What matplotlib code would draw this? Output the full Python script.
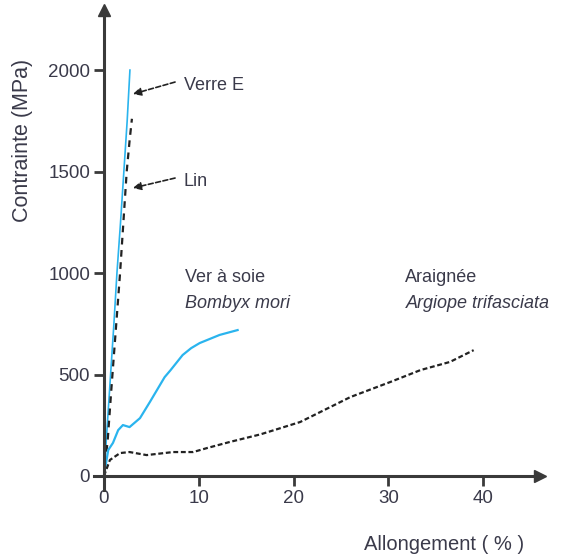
import matplotlib
matplotlib.use("Agg")
import matplotlib.pyplot as plt

# Data (strain %, stress MPa)
glass_x = [0.0, 0.35, 0.7, 1.05, 1.37, 1.75, 2.1, 2.45, 2.74]
glass_y = [0, 250, 500, 750, 1000, 1250, 1500, 1750, 2000]

flax_x = [0.0, 0.4, 0.8, 1.25, 1.7, 2.05, 2.4, 2.7, 2.95]
flax_y = [0, 180, 440, 720, 1000, 1250, 1500, 1650, 1760]

silk_x = [0.0, 0.45, 0.95, 1.5, 2.0, 2.7, 3.8, 4.85, 6.4, 7.0, 8.3, 9.2, 10.1, 12.2, 14.1]
silk_y = [0, 128, 163, 226, 251, 241, 285, 365, 487, 520, 596, 630, 655, 695, 719]

spider_x = [0.0, 0.63, 1.7, 2.7, 4.5, 7.3, 9.4, 10.9, 13.3, 16.5, 20.7, 26.0, 30.2, 33.4, 36.5, 39.0]
spider_y = [0, 79, 113, 118, 103, 118, 118, 138, 168, 205, 266, 389, 463, 522, 562, 620]

x_ticks = [0, 10, 20, 30, 40]
y_ticks = [0, 500, 1000, 1500, 2000]

plt.rcParams['font.family'] = ['Liberation Sans', 'DejaVu Sans']
txt_color = '#3a3a4a'
blue = '#2ab4ee'
axis_color = '#3a3a3a'

fig = plt.figure(figsize=(5.73, 5.59), dpi=100)
ax = fig.add_axes([94/573, 69/559, 446/573, 480/559])
ax.set_xlim(-1.05, 46)
ax.set_ylim(-69, 2296)

for s in ['top', 'right']:
    ax.spines[s].set_visible(False)
ax.spines['left'].set_position(('data', 0))
ax.spines['bottom'].set_position(('data', 0))
for s in ['left', 'bottom']:
    ax.spines[s].set_linewidth(2.2)
    ax.spines[s].set_color(axis_color)
ax.plot(1, 0, '>', color=axis_color, ms=8, transform=ax.get_yaxis_transform(), clip_on=False)
ax.plot(0, 1, '^', color=axis_color, ms=8, transform=ax.get_xaxis_transform(), clip_on=False)

ax.set_xticks(x_ticks)
ax.set_yticks(y_ticks)
ax.tick_params(direction='out', length=7, width=2, color=axis_color, labelsize=13.5,
               labelcolor=txt_color, pad=3)

ax.plot(glass_x, glass_y, color=blue, lw=1.2)
ax.plot(flax_x, flax_y, color='#222222', lw=1.6, ls=(0, (3, 2.5)))
ax.plot(silk_x, silk_y, color=blue, lw=1.6)
ax.plot(spider_x, spider_y, color='#222222', lw=1.6, ls=(0, (2.2, 1.2)))

arrowprops = dict(arrowstyle='-|>', color='#222222', lw=1.2, ls=(0, (3, 1.5)),
                  mutation_scale=12, shrinkA=0, shrinkB=0)
ax.annotate('', xy=(3.06, 1882), xytext=(7.5, 1941), arrowprops=arrowprops)
ax.annotate('', xy=(3.06, 1419), xytext=(7.5, 1468), arrowprops=arrowprops)

fs = 13
ax.text(8.4, 1926, 'Verre E', fontsize=fs, color=txt_color, va='center', ha='left')
ax.text(8.4, 1453, 'Lin', fontsize=fs, color=txt_color, va='center', ha='left')
ax.text(8.6, 978, 'Ver à soie', fontsize=fs, color=txt_color, va='center', ha='left')
ax.text(8.6, 850, 'Bombyx mori', fontsize=fs, color=txt_color, va='center', ha='left', style='italic')
ax.text(31.8, 978, 'Araignée', fontsize=fs, color=txt_color, va='center', ha='left')
ax.text(31.8, 850, 'Argiope trifasciata', fontsize=fs, color=txt_color, va='center', ha='left', style='italic')

fig.text(444/573, 1 - 545/559, 'Allongement ( % )', fontsize=14.5, color=txt_color, ha='center', va='center')
fig.text(23/573, 1 - 140/559, 'Contrainte (MPa)', fontsize=15.5, color=txt_color, ha='center', va='center', rotation=90)

fig.savefig('out.png', dpi=100)
